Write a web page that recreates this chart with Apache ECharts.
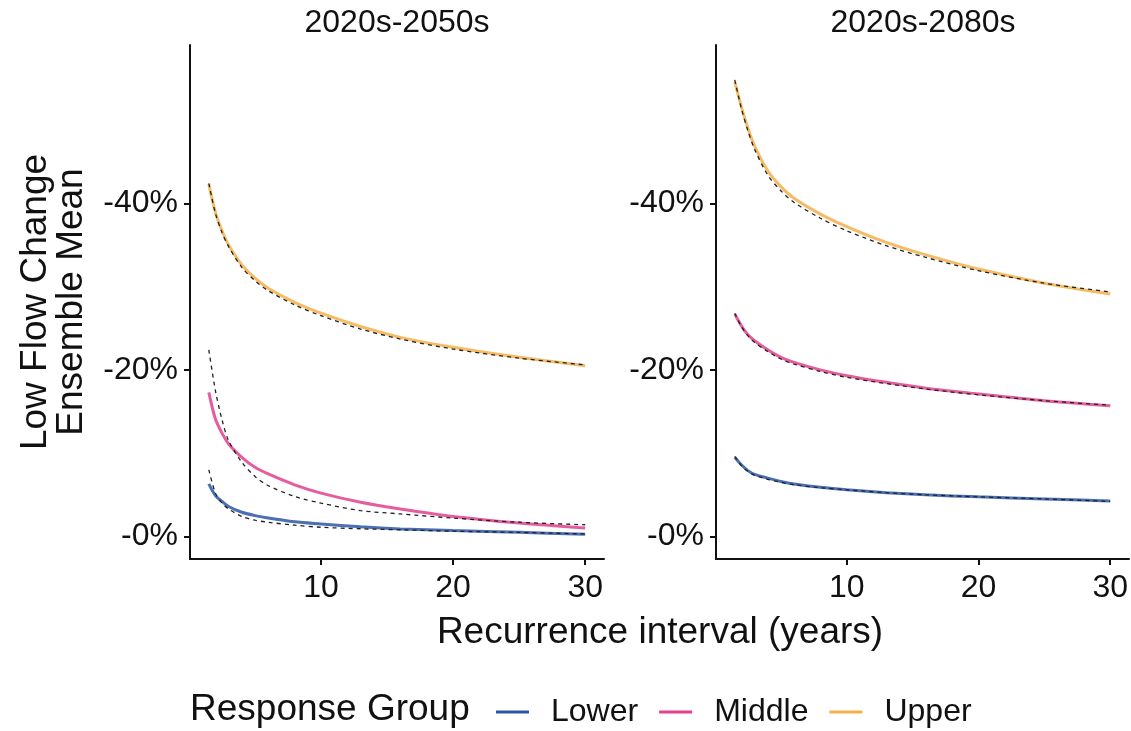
<!DOCTYPE html>
<html>
<head>
<meta charset="utf-8">
<script src="https://cdn.jsdelivr.net/npm/echarts@6/dist/echarts.min.js"></script>
<style>
  html, body { margin: 0; padding: 0; background: #fff; }
  #chart { width: 1131px; height: 731px; }
</style>
</head>
<body>
<div id="chart"></div>
<script>
// Recurrence intervals (years) shared by every curve
const intervals = [1.5, 2, 2.5, 3, 4, 5, 6, 8, 10, 13, 16, 20, 25, 30];

// Facet labels
const periods = ['2020s-2050s', '2020s-2080s'];
const groups = ['Lower', 'Middle', 'Upper'];

// Ensemble-mean low flow decrease (%), 2020s-2050s
const lower2050 = [6.3, 4.9, 4.2, 3.6, 2.9, 2.5, 2.2, 1.75, 1.5, 1.15, 0.9, 0.7, 0.5, 0.25];
const middle2050 = [17.3, 14.1, 12.4, 11.1, 9.5, 8.3, 7.5, 6.2, 5.2, 4.1, 3.3, 2.4, 1.6, 1.0];
const upper2050 = [42.3, 38.9, 36.7, 35.0, 32.6, 31.0, 29.8, 28.1, 26.8, 25.2, 23.9, 22.7, 21.5, 20.5];
// Fitted curves, 2020s-2050s
const lower2050Fit = [8.0, 5.2, 4.0, 3.3, 2.4, 1.95, 1.7, 1.35, 1.1, 0.92, 0.8, 0.63, 0.48, 0.3];
const middle2050Fit = [22.4, 17.5, 14.0, 11.5, 8.9, 7.2, 6.1, 4.8, 4.0, 3.1, 2.7, 2.2, 1.7, 1.4];
const upper2050Fit = [42.4, 38.8, 36.5, 34.8, 32.3, 30.7, 29.5, 27.8, 26.5, 24.9, 23.7, 22.5, 21.4, 20.6];

// Ensemble-mean low flow decrease (%), 2020s-2080s
const lower2080 = [9.5, 8.6, 7.9, 7.45, 7.0, 6.6, 6.3, 5.9, 5.6, 5.25, 5.0, 4.75, 4.5, 4.25];
const middle2080 = [26.7, 25.3, 24.2, 23.5, 22.4, 21.5, 20.9, 20.0, 19.3, 18.5, 17.8, 17.1, 16.3, 15.7];
const upper2080 = [54.6, 51.6, 49.0, 46.9, 43.9, 42.0, 40.6, 38.7, 37.2, 35.3, 33.8, 32.1, 30.4, 29.1];
// Fitted curves, 2020s-2080s
const lower2080Fit = [9.6, 8.5, 7.8, 7.35, 6.85, 6.5, 6.2, 5.85, 5.6, 5.25, 5.0, 4.75, 4.5, 4.2];
const middle2080Fit = [26.8, 25.2, 24.1, 23.3, 22.2, 21.3, 20.7, 19.8, 19.1, 18.35, 17.7, 17.0, 16.3, 15.75];
const upper2080Fit = [54.8, 51.4, 48.7, 46.5, 43.4, 41.5, 40.1, 38.2, 36.7, 34.9, 33.5, 31.9, 30.4, 29.35];

// Axis ticks
const xTicks = [10, 20, 30];
const yTicks = [0, 20, 40];

const FONT = "'Liberation Sans', Arial, Helvetica, sans-serif";
const colors = { Lower: '#2B56A8', Middle: '#E2418D', Upper: '#F5B04A' };

const panels = [
  { Lower: [lower2050, lower2050Fit], Middle: [middle2050, middle2050Fit], Upper: [upper2050, upper2050Fit] },
  { Lower: [lower2080, lower2080Fit], Middle: [middle2080, middle2080Fit], Upper: [upper2080, upper2080Fit] }
];

const pairs = vals => intervals.map((x, i) => [x, vals[i]]);

const grids = [
  { left: 190, top: 45, width: 414, height: 514 },
  { left: 716, top: 45, width: 414, height: 514 }
];

const axisLine = { show: true, onZero: false, lineStyle: { color: '#111', width: 2 } };
const tickStyle = { show: true, length: 6, lineStyle: { color: '#111', width: 2 } };

const xAxes = grids.map((g, i) => ({
  type: 'value', gridIndex: i, min: 0.075, max: 31.425,
  axisLine: axisLine, splitLine: { show: false },
  axisTick: Object.assign({ customValues: xTicks }, tickStyle),
  axisLabel: { customValues: xTicks, fontSize: 32, color: '#111', fontFamily: FONT, margin: 13 }
}));

const yAxes = grids.map((g, i) => ({
  type: 'value', gridIndex: i, min: -2.71, max: 59,
  axisLine: axisLine, splitLine: { show: false },
  axisTick: Object.assign({ customValues: yTicks }, tickStyle),
  axisLabel: {
    customValues: yTicks, fontSize: 32, color: '#111', fontFamily: FONT, margin: 12,
    formatter: v => '-' + v + '%'
  }
}));

const series = [];
panels.forEach((panel, p) => {
  groups.forEach(name => {
    series.push({
      name: name, type: 'line', xAxisIndex: p, yAxisIndex: p,
      data: pairs(panel[name][0]), showSymbol: false, symbol: 'none',
      smooth: 0.3,
      lineStyle: { color: colors[name], width: 3, opacity: 0.85 },
      itemStyle: { color: colors[name] }, z: 2
    });
  });
  groups.forEach(name => {
    series.push({
      name: name + ' fit', type: 'line', xAxisIndex: p, yAxisIndex: p,
      data: pairs(panel[name][1]), showSymbol: false, symbol: 'none',
      smooth: 0.3,
      lineStyle: { color: '#222', width: 1.3, type: [4, 4] }, z: 3
    });
  });
});

const chart = echarts.init(document.getElementById('chart'), null, { renderer: 'canvas' });
chart.setOption({
  animation: false,
  backgroundColor: '#fff',
  grid: grids,
  xAxis: xAxes,
  yAxis: yAxes,
  legend: {
    data: groups, left: 491, top: 691, icon: 'rect', itemWidth: 33, itemHeight: 3, itemGap: 21,
    textStyle: { fontSize: 32, color: '#111', fontFamily: FONT, padding: [0, 0, 0, 17] }
  },
  graphic: [
    { type: 'text', x: 397, y: 23, style: { text: periods[0], font: '32px ' + FONT, fill: '#111', align: 'center', verticalAlign: 'middle' } },
    { type: 'text', x: 923, y: 23, style: { text: periods[1], font: '32px ' + FONT, fill: '#111', align: 'center', verticalAlign: 'middle' } },
    { type: 'text', x: 660, y: 633, style: { text: 'Recurrence interval (years)', font: '37px ' + FONT, fill: '#111', align: 'center', verticalAlign: 'middle' } },
    { type: 'text', x: 54, y: 302, rotation: Math.PI / 2,
      style: { text: 'Low Flow Change\nEnsemble Mean', font: '37px ' + FONT, lineHeight: 36, fill: '#111', align: 'center', verticalAlign: 'middle' } },
    { type: 'text', x: 190, y: 710, style: { text: 'Response Group', font: '37px ' + FONT, fill: '#111', align: 'left', verticalAlign: 'middle' } }
  ],
  series: series
});
</script>
</body>
</html>
